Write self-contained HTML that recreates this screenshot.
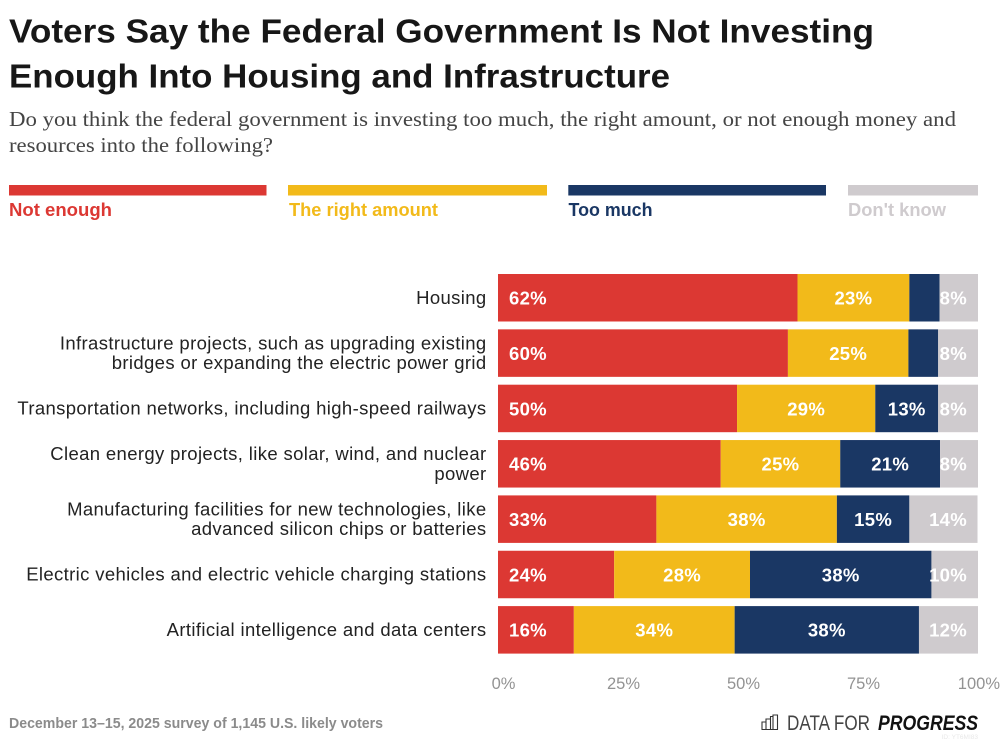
<!DOCTYPE html>
<html lang="en">
<head>
<meta charset="utf-8">
<title>Voters Say the Federal Government Is Not Investing Enough Into Housing and Infrastructure</title>
<style>
html,body{margin:0;padding:0;background:#fff;}
svg{display:block;font-family:"Liberation Sans",sans-serif;}
</style>
</head>
<body>
<svg id="chart" xmlns="http://www.w3.org/2000/svg" width="1000" height="741" viewBox="0 0 1000 741">
  <rect x="0" y="0" width="1000" height="741" fill="#fff"/>
  <g font-size="33.5" font-weight="700" fill="#171717">
    <text x="9" y="42.5" textLength="865" lengthAdjust="spacingAndGlyphs">Voters Say the Federal Government Is Not Investing</text>
    <text x="9" y="87.5" textLength="661" lengthAdjust="spacingAndGlyphs">Enough Into Housing and Infrastructure</text>
  </g>
  <g font-family="'Liberation Serif',serif" font-size="21" fill="#444">
    <text x="9" y="126" textLength="947" lengthAdjust="spacingAndGlyphs">Do you think the federal government is investing too much, the right amount, or not enough money and</text>
    <text x="9" y="152" textLength="264" lengthAdjust="spacingAndGlyphs">resources into the following?</text>
  </g>
  <g font-size="18" font-weight="700">
    <g>
      <rect x="9" y="185" width="257.5" height="10.5" fill="#dc3833"/>
      <text x="9" y="216" fill="#dc3833" textLength="103" lengthAdjust="spacingAndGlyphs">Not enough</text>
    </g>
    <g>
      <rect x="288" y="185" width="259" height="10.5" fill="#f2ba1a"/>
      <text x="289" y="216" fill="#f2ba1a" textLength="149" lengthAdjust="spacingAndGlyphs">The right amount</text>
    </g>
    <g>
      <rect x="568.3" y="185" width="257.7" height="10.5" fill="#1a3764"/>
      <text x="568.5" y="216" fill="#1a3764" textLength="84" lengthAdjust="spacingAndGlyphs">Too much</text>
    </g>
    <g>
      <rect x="848" y="185" width="130" height="10.5" fill="#cfcbce"/>
      <text x="848" y="216" fill="#cfcbce" textLength="98" lengthAdjust="spacingAndGlyphs">Don't know</text>
    </g>
  </g>
  <g id="plot"></g>
  <text x="9" y="728" font-size="15" font-weight="700" fill="#8b8b8b" textLength="374" lengthAdjust="spacingAndGlyphs">December 13–15, 2025 survey of 1,145 U.S. likely voters</text>
  <g>
    <g fill="none" stroke="#333" stroke-width="1.1">
      <path d="M761.5 729.5H778M762 729.5V722H766V729.5M766 729.5V719H770.5V729.5M770.5 729.5V716.5H773M773 729.5V715H777.5V729.5"/>
    </g>
    <text x="787" y="730" font-size="21" fill="#444" textLength="83" lengthAdjust="spacingAndGlyphs">DATA FOR</text>
    <text x="878" y="730" font-size="21" font-weight="700" font-style="italic" fill="#111" textLength="100" lengthAdjust="spacingAndGlyphs">PROGRESS</text>
    <text x="978" y="739" font-size="6.5" fill="#e8e8e8" text-anchor="end">ID: YT6MI83</text>
  </g>
</svg>
<script>
const categories = [
  ["Housing"],
  ["Infrastructure projects, such as upgrading existing", "bridges or expanding the electric power grid"],
  ["Transportation networks, including high-speed railways"],
  ["Clean energy projects, like solar, wind, and nuclear", "power"],
  ["Manufacturing facilities for new technologies, like", "advanced silicon chips or batteries"],
  ["Electric vehicles and electric vehicle charging stations"],
  ["Artificial intelligence and data centers"]
];
const notEnough = [62.4, 60.4, 49.8, 46.4, 33.0, 24.2, 15.8];
const rightAmount = [23.3, 25.1, 28.8, 24.9, 37.6, 28.3, 33.5];
const tooMuch = [6.3, 6.2, 13.1, 20.8, 15.1, 37.8, 38.4];
const dontKnow = [8.0, 8.3, 8.3, 7.9, 14.2, 9.7, 12.3];
const seriesNames = ["not-enough", "right-amount", "too-much", "dont-know"];
const seriesColors = ["#dc3833", "#f2ba1a", "#1a3764", "#cfcbce"];
const xTicks = [0, 25, 50, 75, 100];

const NS = "http://www.w3.org/2000/svg";
const plot = document.getElementById("plot");
const series = [notEnough, rightAmount, tooMuch, dontKnow];
const X0 = 498, X1 = 978, Y0 = 274, STEP = 55.35, BAR_H = 47.5;
function xScale(v) { return X0 + (v / 100) * (X1 - X0); }
function yScale(i) { return Y0 + i * STEP; }
function make(tag, attrs, parent) {
  const el = document.createElementNS(NS, tag);
  for (const k in attrs) el.setAttribute(k, attrs[k]);
  parent.appendChild(el);
  return el;
}

categories.forEach(function (lines, i) {
  const mid = yScale(i) + BAR_H / 2;
  lines.forEach(function (line, j) {
    const baseline = mid + 6.2 + (j - (lines.length - 1) / 2) * 19.7;
    const label = make("text", {
      x: 486.5, y: baseline, "text-anchor": "end",
      "font-size": 18.5, "letter-spacing": 0.36, fill: "#222"
    }, plot);
    
    
    label.textContent = line;
  });

  let cum = 0;
  series.forEach(function (values, s) {
    const v = values[i];
    const a = xScale(cum), b = xScale(cum + v);
    const bar = make("rect", {
      x: a, y: yScale(i), width: b - a, height: BAR_H, fill: seriesColors[s]
    }, plot);
    
    

    if (b - a >= 35) {
      let tx = (a + b) / 2, anchor = "middle";
      if (s === 0) { tx = X0 + 11; anchor = "start"; }
      if (s === 3) { tx = X1 - 11; anchor = "end"; }
      const val = make("text", {
        x: tx, y: yScale(i) + BAR_H / 2 + 6.8, "text-anchor": anchor,
        "font-size": 18.5, "font-weight": 700, "letter-spacing": 0.3, fill: "#fff"
      }, plot);
      
      
      val.textContent = Math.round(v) + "%";
    }
    cum += v;
  });
});

xTicks.forEach(function (t) {
  const last = t === xTicks[xTicks.length - 1];
  const tick = make("text", {
    x: last ? 1000 : xScale(t) + 5.5, y: 689,
    "text-anchor": last ? "end" : "middle",
    "font-size": 16.5, fill: "#939393"
  }, plot);
  
  
  tick.textContent = t + "%";
});
</script>
</body>
</html>
